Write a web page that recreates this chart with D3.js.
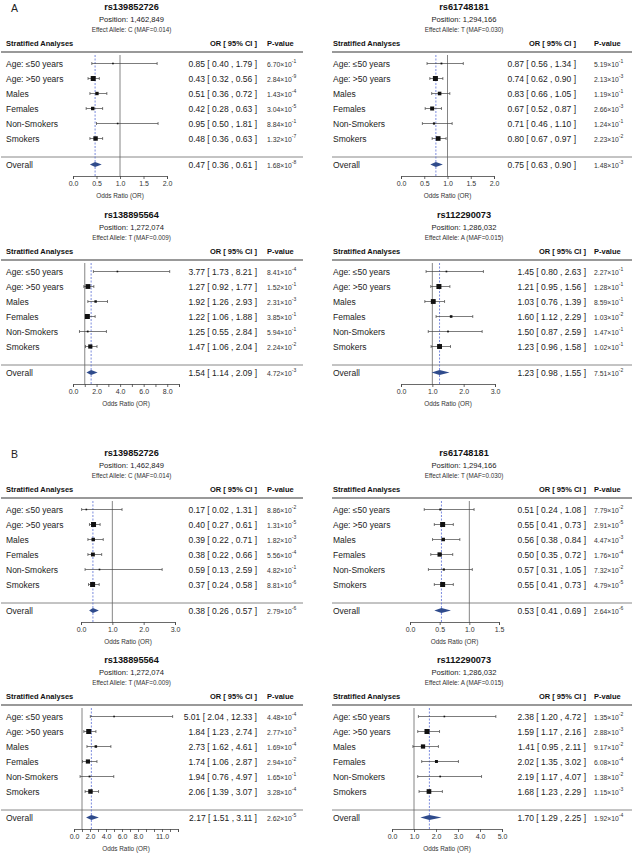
<!DOCTYPE html>
<html><head><meta charset="utf-8">
<script src="https://cdn.jsdelivr.net/npm/d3@7"></script>
<style>
body{margin:0;background:#fff}
svg{display:block}
text{font-family:"Liberation Sans",Arial,Helvetica,sans-serif}
</style>
</head><body>
<svg id="chart" width="632" height="853"></svg>
<script>
// ---------------- DATA ----------------
const figureLetters = ["A", "B"];
const subgroups = ["Age: ≤50 years", "Age: >50 years", "Males", "Females", "Non-Smokers", "Smokers", "Overall"];
const snpIds = ["rs139852726", "rs61748181", "rs138895564", "rs112290073",
                "rs139852726", "rs61748181", "rs138895564", "rs112290073"];
const snpPositions = ["1,462,849", "1,294,166", "1,272,074", "1,286,032",
                      "1,462,849", "1,294,166", "1,272,074", "1,286,032"];
const effectAlleles = ["C", "T", "T", "A", "C", "T", "T", "A"];
const alleleMAF = ["0.014", "0.030", "0.009", "0.015", "0.014", "0.030", "0.009", "0.015"];

const oddsRatios = [
  [0.85, 0.43, 0.51, 0.42, 0.95, 0.48, 0.47],
  [0.87, 0.74, 0.83, 0.67, 0.71, 0.80, 0.75],
  [3.77, 1.27, 1.92, 1.22, 1.25, 1.47, 1.54],
  [1.45, 1.21, 1.03, 1.60, 1.50, 1.23, 1.23],
  [0.17, 0.40, 0.39, 0.38, 0.59, 0.37, 0.38],
  [0.51, 0.55, 0.56, 0.50, 0.57, 0.55, 0.53],
  [5.01, 1.84, 2.73, 1.74, 1.94, 2.06, 2.17],
  [2.38, 1.59, 1.41, 2.02, 2.19, 1.68, 1.70]
];
const ciLower = [
  [0.40, 0.32, 0.36, 0.28, 0.50, 0.36, 0.36],
  [0.56, 0.62, 0.66, 0.52, 0.46, 0.67, 0.63],
  [1.73, 0.92, 1.26, 1.06, 0.55, 1.06, 1.14],
  [0.80, 0.95, 0.76, 1.12, 0.87, 0.96, 0.98],
  [0.02, 0.27, 0.22, 0.22, 0.13, 0.24, 0.26],
  [0.24, 0.41, 0.38, 0.35, 0.31, 0.41, 0.41],
  [2.04, 1.23, 1.62, 1.06, 0.76, 1.39, 1.51],
  [1.20, 1.17, 0.95, 1.35, 1.17, 1.23, 1.29]
];
const ciUpper = [
  [1.79, 0.56, 0.72, 0.63, 1.81, 0.63, 0.61],
  [1.34, 0.90, 1.05, 0.87, 1.10, 0.97, 0.90],
  [8.21, 1.77, 2.93, 1.88, 2.84, 2.04, 2.09],
  [2.63, 1.56, 1.39, 2.29, 2.59, 1.58, 1.55],
  [1.31, 0.61, 0.71, 0.66, 2.59, 0.58, 0.57],
  [1.08, 0.73, 0.84, 0.72, 1.05, 0.73, 0.69],
  [12.33, 2.74, 4.61, 2.87, 4.97, 3.07, 3.11],
  [4.72, 2.16, 2.11, 3.02, 4.07, 2.29, 2.25]
];
const pValues = [
  ["6.70e-1", "2.84e-9", "1.43e-4", "3.04e-5", "8.84e-1", "1.32e-7", "1.68e-8"],
  ["5.19e-1", "2.13e-3", "1.19e-1", "2.66e-3", "1.24e-1", "2.23e-2", "1.48e-3"],
  ["8.41e-4", "1.52e-1", "2.31e-3", "3.85e-1", "5.94e-1", "2.24e-2", "4.72e-3"],
  ["2.27e-1", "1.28e-1", "8.59e-1", "1.03e-2", "1.47e-1", "1.02e-1", "7.51e-2"],
  ["8.86e-2", "1.31e-5", "1.82e-3", "5.56e-4", "4.82e-1", "8.81e-6", "2.79e-6"],
  ["7.79e-2", "2.91e-5", "4.47e-3", "1.76e-4", "7.32e-2", "4.79e-5", "2.64e-6"],
  ["4.48e-4", "2.77e-3", "1.69e-4", "2.94e-2", "1.65e-1", "3.28e-4", "2.62e-5"],
  ["1.35e-2", "2.88e-3", "9.17e-2", "6.08e-4", "1.38e-2", "1.15e-3", "1.92e-4"]
];
const axisDomains = [[0, 2], [0, 2], [0, 9], [0, 3], [0, 3], [0, 1.5], [0, 13], [0, 5]];
const axisTicks = [
  [0, 0.5, 1, 1.5, 2],
  [0, 0.5, 1, 1.5, 2],
  [0, 1, 2, 3, 4, 5, 6, 7, 8, 9],
  [0, 1, 2, 3],
  [0, 1, 2, 3],
  [0, 0.5, 1, 1.5],
  [0, 1, 2, 3, 4, 5, 6, 7, 8, 9, 10, 11, 12, 13],
  [0, 1, 2, 3, 4, 5]
];
const axisTickLabels = [
  [0, 0.5, 1, 1.5, 2],
  [0, 0.5, 1, 1.5, 2],
  [0, 2, 4, 6, 8],
  [0, 1, 2, 3],
  [0, 1, 2, 3],
  [0, 0.5, 1, 1.5],
  [0, 2, 4, 6, 8, 11],
  [0, 1, 2, 3, 4, 5]
];

// ---------------- LAYOUT ----------------
const panelTops = [0, 208, 446, 653];
const columns = [
  {labelX: 6, lineX0: 1, lineX1: 303, titleX: 131.5, pX: 267},
  {labelX: 333, lineX0: 332, lineX1: 632, titleX: 464, pX: 594}
];
const orRight = [257, 576, 257, 586, 257, 586, 257, 586];
const axisRanges = [[73, 167], [401, 494], [73, 179], [401, 495], [81, 175], [410, 499], [74, 178], [392, 502]];
const Y = {title: 6.5, pos: 19, allele: 29.5, header: 43, headLine: 52, row0: 63.5, step: 15,
           sepLine: 157, overall: 164.5, axis: 176, axisTitle: 195.5};

const svg = d3.select("#chart");
const fmt1 = d3.format(".1f");

// figure letters
figureLetters.forEach((L, k) => {
  svg.append("text").attr("x", 11).attr("y", panelTops[k * 2] + 7.5)
    .attr("dominant-baseline", "central").attr("font-size", 10.5).attr("fill", "#222").text(L);
});

snpIds.forEach((snp, i) => {
  const col = columns[i % 2];
  const top = panelTops[Math.floor(i / 2)];
  const g = svg.append("g").attr("transform", `translate(0,${top})`);
  const x = d3.scaleLinear().domain(axisDomains[i]).range(axisRanges[i]);

  // titles
  g.append("text").attr("x", col.titleX).attr("y", Y.title).attr("text-anchor", "middle")
    .attr("dominant-baseline", "central").attr("font-size", 9.2).attr("font-weight", "bold")
    .attr("fill", "#111").text(snp);
  g.append("text").attr("x", col.titleX).attr("y", Y.pos).attr("text-anchor", "middle")
    .attr("dominant-baseline", "central").attr("font-size", 7.6).attr("fill", "#222")
    .text("Position: " + snpPositions[i]);
  g.append("text").attr("x", col.titleX).attr("y", Y.allele).attr("text-anchor", "middle")
    .attr("dominant-baseline", "central").attr("font-size", 6.3).attr("fill", "#333")
    .text(`Effect Allele: ${effectAlleles[i]} (MAF=${alleleMAF[i]})`);

  // headers
  const hdr = (t, xx, anchor) => g.append("text").attr("x", xx).attr("y", Y.header)
    .attr("text-anchor", anchor).attr("dominant-baseline", "central")
    .attr("font-size", 7.5).attr("font-weight", "bold").attr("fill", "#111").text(t);
  hdr("Stratified Analyses", col.labelX, "start");
  hdr("OR [ 95% CI ]", orRight[i], "end");
  hdr("P-value", col.pX, "start");

  g.append("line").attr("x1", col.lineX0).attr("x2", col.lineX1).attr("y1", Y.headLine).attr("y2", Y.headLine)
    .attr("stroke", "#777").attr("stroke-width", 1.3);
  g.append("line").attr("x1", col.lineX0).attr("x2", col.lineX1).attr("y1", Y.sepLine).attr("y2", Y.sepLine)
    .attr("stroke", "#888").attr("stroke-width", 1);

  // reference lines
  g.append("line").attr("x1", x(1)).attr("x2", x(1)).attr("y1", Y.headLine + 3).attr("y2", Y.axis)
    .attr("stroke", "#666").attr("stroke-width", 0.8);
  const ovr = oddsRatios[i][6];
  g.append("line").attr("x1", x(ovr)).attr("x2", x(ovr)).attr("y1", Y.headLine + 3).attr("y2", Y.axis)
    .attr("stroke", "#5b6fd6").attr("stroke-width", 0.8).attr("stroke-dasharray", "2,1.5");

  const rowY = j => j < 6 ? Y.row0 + j * Y.step : Y.overall;

  // box sizes from precision (1 / CI width)
  const info = d3.range(6).map(j => 1 / (ciUpper[i][j] - ciLower[i][j]));
  const maxInfo = d3.max(info);

  subgroups.forEach((lab, j) => {
    const yy = rowY(j);
    g.append("text").attr("x", col.labelX).attr("y", yy).attr("dominant-baseline", "central")
      .attr("font-size", 8.5).attr("fill", "#222").text(lab);
    const or = oddsRatios[i][j], lo = ciLower[i][j], hi = ciUpper[i][j];
    g.append("text").attr("x", orRight[i]).attr("y", yy).attr("text-anchor", "end")
      .attr("dominant-baseline", "central").attr("font-size", 8.5).attr("fill", "#222")
      .text(`${or.toFixed(2)} [ ${lo.toFixed(2)} , ${hi.toFixed(2)} ]`);
    const [mant, ex] = pValues[i][j].split("e");
    const pt = g.append("text").attr("x", col.pX).attr("y", yy).attr("dominant-baseline", "central")
      .attr("font-size", 6.8).attr("fill", "#333");
    pt.append("tspan").text(mant + "×10");
    pt.append("tspan").attr("font-size", 5).attr("dy", -2.5).text(ex);

    if (j < 6) {
      g.append("line").attr("x1", x(lo)).attr("x2", x(hi)).attr("y1", yy).attr("y2", yy)
        .attr("stroke", "#444").attr("stroke-width", 0.7);
      [lo, hi].forEach(v => g.append("line").attr("x1", x(v)).attr("x2", x(v))
        .attr("y1", yy - 1.5).attr("y2", yy + 1.5).attr("stroke", "#444").attr("stroke-width", 0.7));
      const s = Math.max(1.6, 5 * info[j] / maxInfo);
      g.append("rect").attr("x", x(or) - s / 2).attr("y", yy - s / 2).attr("width", s).attr("height", s)
        .attr("fill", "#111");
    } else {
      const h = 2.4;
      g.append("path").attr("d", `M${x(lo)},${yy} L${x(or)},${yy - h} L${x(hi)},${yy} L${x(or)},${yy + h} Z`)
        .attr("fill", "#2f4b8c");
    }
  });

  // axis
  const labelSet = axisTickLabels[i];
  const ax = g.append("g").attr("transform", `translate(0,${Y.axis})`)
    .call(d3.axisBottom(x).tickValues(axisTicks[i]).tickSizeOuter(0).tickSize(3).tickPadding(2)
      .tickFormat(d => labelSet.includes(d) ? fmt1(d) : ""));
  ax.selectAll("path").attr("stroke", "#444").attr("stroke-width", 0.8);
  ax.selectAll("line").attr("stroke", "#444").attr("stroke-width", 0.8);
  ax.selectAll("text").attr("font-size", 7).attr("fill", "#333")
    .attr("font-family", "'Liberation Sans',Arial,sans-serif");
  g.append("text").attr("x", (axisRanges[i][0] + axisRanges[i][1]) / 2).attr("y", Y.axisTitle)
    .attr("text-anchor", "middle").attr("dominant-baseline", "central").attr("font-size", 6.4)
    .attr("fill", "#333").text("Odds Ratio (OR)");
});
</script>
</body></html>
